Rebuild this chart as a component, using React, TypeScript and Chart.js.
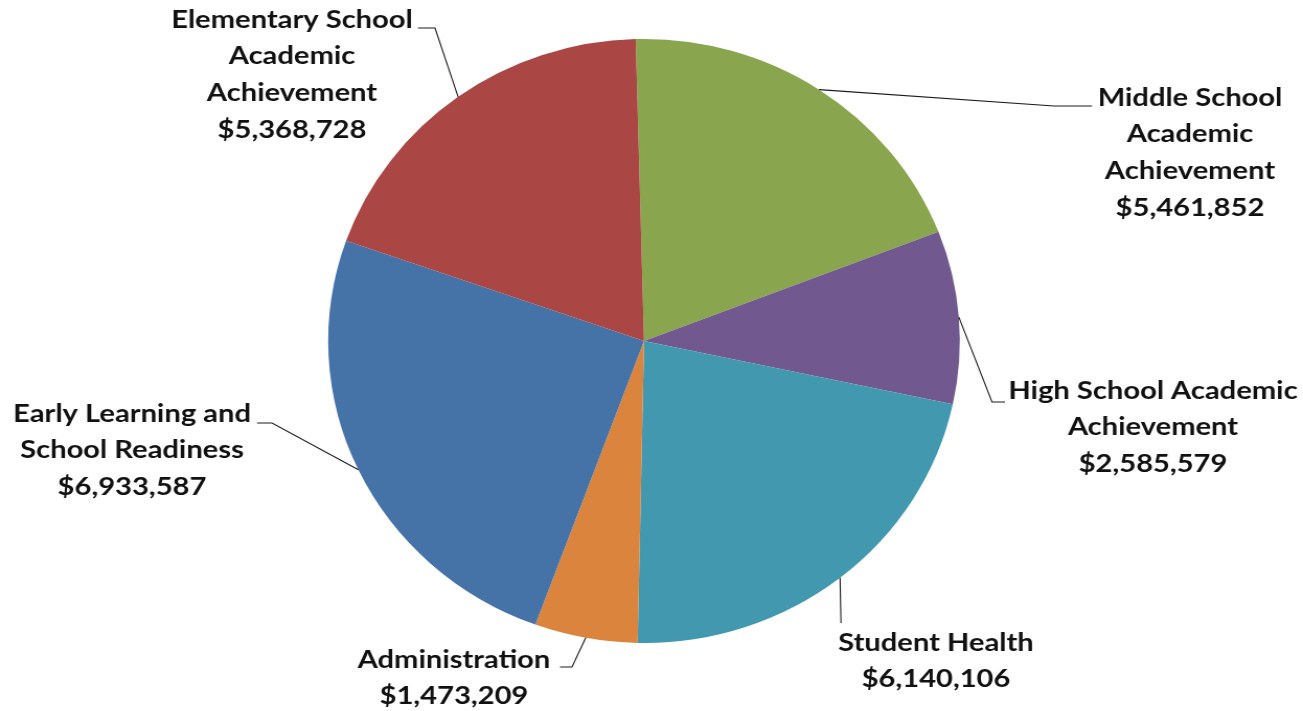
import React, { useEffect, useRef } from "react";
import { Chart, registerables } from "chart.js";

Chart.register(...registerables);

const categories = [
  "Middle School Academic Achievement",
  "High School Academic Achievement",
  "Student Health",
  "Administration",
  "Early Learning and School Readiness",
  "Elementary School Academic Achievement",
];
const amounts = [5461852, 2585579, 6140106, 1473209, 6933587, 5368728];
const labelLines = [
  ["Middle School", "Academic", "Achievement"],
  ["High School Academic", "Achievement"],
  ["Student Health"],
  ["Administration"],
  ["Early Learning and", "School Readiness"],
  ["Elementary School", "Academic", "Achievement"],
];
const colors = ["#89A54E", "#71588F", "#4198AF", "#DB843D", "#4572A7", "#AA4643"];

// layout (screen px): label centre x, first line y, leader elbow, leader end
const labelLayout = [
  { cx: 1190, y: 98, elbow: [1054, 106], end: [1092, 106] },
  { cx: 1153, y: 391, elbow: [992, 402], end: [1005, 402] },
  { cx: 936, y: 643, elbow: [841, 623], end: [841, 623] },
  { cx: 454, y: 660, elbow: [572, 667], end: [560, 667] },
  { cx: 132, y: 414, elbow: [272, 423], end: [257, 423] },
  { cx: 292, y: 20, elbow: [435, 28], end: [418, 28] },
];

const W = 1246;
const H = 711;
const SX = 1303 / W;
const LINE_H = 36.7;
const TEXT_SX = 1.16;

const fmt = (v: number) => "$" + v.toLocaleString("en-US");

const labelPlugin = {
  id: "outsideLabels",
  afterDatasetsDraw(chart: any) {
    const ctx = chart.ctx;
    const meta = chart.getDatasetMeta(0);
    ctx.save();
    meta.data.forEach((arc: any, i: number) => {
      const lay = labelLayout[i];
      const mid = (arc.startAngle + arc.endAngle) / 2;
      const ax = arc.x + Math.cos(mid) * arc.outerRadius;
      const ay = arc.y + Math.sin(mid) * arc.outerRadius;
      ctx.strokeStyle = "#1a1a1a";
      ctx.lineWidth = 1.1;
      ctx.beginPath();
      ctx.moveTo(ax, ay);
      ctx.lineTo(lay.elbow[0] / SX, lay.elbow[1]);
      ctx.lineTo(lay.end[0] / SX, lay.end[1]);
      ctx.stroke();

      const lines = [...labelLines[i], fmt(amounts[i])];
      ctx.fillStyle = "#111";
      ctx.font = "bold 24px Lato";
      ctx.textAlign = "center";
      ctx.textBaseline = "middle";
      lines.forEach((t, k) => {
        ctx.save();
        ctx.translate(lay.cx / SX, lay.y + k * LINE_H);
        ctx.scale(TEXT_SX, 1);
        ctx.fillText(t, 0, 0);
        ctx.restore();
      });
    });
    ctx.restore();
  },
};

export default function App() {
  const ref = useRef<HTMLCanvasElement | null>(null);
  useEffect(() => {
    if (!ref.current) return;
    const cx = 644 / SX;
    const r = 302;
    const chart = new Chart(ref.current, {
      type: "pie",
      data: {
        labels: categories,
        datasets: [
          {
            data: amounts,
            backgroundColor: colors,
            borderWidth: 0,
          },
        ],
      },
      options: {
        animation: false,
        responsive: false,
        rotation: -1.5,
        layout: {
          padding: {
            top: 341 - r,
            bottom: H - 341 - r,
            left: cx - r,
            right: W - cx - r,
          },
        },
        plugins: {
          legend: { display: false },
          tooltip: { enabled: false },
        },
      },
      plugins: [labelPlugin],
    });
    return () => chart.destroy();
  }, []);
  return (
    <div style={{ position: "absolute", left: 0, top: 0, width: 1303, height: 711, overflow: "hidden", background: "#fff" }}>
      <div style={{ width: W, height: H, transform: `scaleX(${SX})`, transformOrigin: "0 0" }}>
        <canvas ref={ref} width={W} height={H} style={{ width: W, height: H, display: "block" }} />
      </div>
    </div>
  );
}
